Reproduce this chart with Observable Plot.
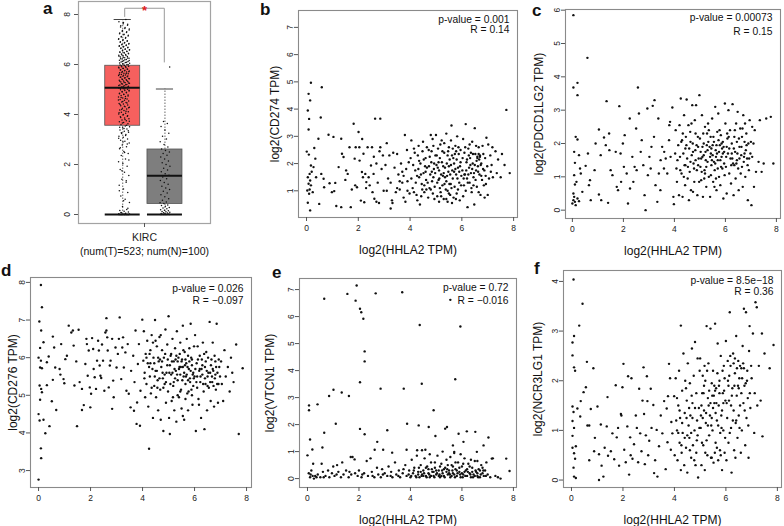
<!DOCTYPE html>
<html><head><meta charset="utf-8">
<script src="https://cdn.jsdelivr.net/npm/d3@7"></script>
<script src="https://cdn.jsdelivr.net/npm/@observablehq/plot@0.6"></script>
<style>
body{margin:0;background:#fff;font-family:"Liberation Sans",Arial,sans-serif;}
#fig{position:relative;width:784px;height:526px;overflow:hidden;background:#fff;}
.panel{position:absolute;}
.tag{position:absolute;font-weight:bold;font-size:17px;line-height:17px;color:#111;}
</style></head><body><div id="fig"></div>
<script>
// ---------- DATA ----------
// panel a: box plot summary (KIRC tumor vs normal)
const boxGroups = ["Tumor", "Normal"];
const boxColors = ["#F6605E", "#7E7E7E"];
const boxLow = [0, 0];
const boxQ1 = [3.55, 0.42];
const boxMedian = [5.07, 1.55];
const boxQ3 = [5.95, 2.6];
const boxHigh = [7.8, 5.02];
const tumorValues = [0,0,0,0,0,0,0,0,0,0,0,0,0.01,0.03,0.05,0.07,0.1,0.13,0.16,0.2,
 0.32,0.48,0.61,0.74,0.88,1.02,1.17,1.29,1.41,1.56,1.69,1.8,1.93,2.04,2.11,2.22,2.36,2.44,2.52,2.63,2.71,2.78,2.86,2.93,2.97,
 3.02,3.09,3.13,3.2,3.24,3.29,3.33,3.38,3.42,3.47,3.51,3.54,3.59,3.63,3.68,3.71,3.75,3.78,3.83,3.86,3.91,3.93,3.98,
 4.02,4.05,4.09,4.11,4.16,4.18,4.22,4.25,4.29,4.31,4.35,4.38,4.42,4.44,4.48,4.5,4.54,4.57,4.6,4.62,4.66,4.7,4.72,4.76,4.78,4.81,4.85,4.87,4.9,4.94,4.96,4.99,
 5.01,5.03,5.06,5.08,5.1,5.13,5.15,5.18,5.2,5.22,5.25,5.27,5.3,5.32,5.34,5.37,5.39,5.42,5.44,5.46,5.49,5.51,5.53,5.56,5.58,5.6,5.63,5.65,5.67,5.7,5.72,5.74,5.77,5.79,5.81,5.84,5.86,5.88,5.91,5.93,5.96,5.98,
 6.0,6.03,6.05,6.08,6.1,6.12,6.15,6.17,6.2,6.22,6.25,6.27,6.3,6.32,6.35,6.37,6.4,6.42,6.45,6.48,6.5,6.53,6.56,6.58,6.61,6.64,6.67,6.7,6.73,6.76,6.79,6.82,6.86,6.89,6.93,6.97,
 7.01,7.05,7.1,7.14,7.19,7.23,7.28,7.33,7.38,7.44,7.5,7.57,7.63,7.71,7.8,
 0,0,0,0,0,0,0.02,0.04,0.08,0.25,0.55,0.95,1.35,1.75,2.18,2.48,2.67,2.82,2.9,3.05,3.16,3.27,3.35,3.44,3.49,3.57,3.66,3.73,3.8,3.88,3.95,
 4.0,4.07,4.13,4.2,4.27,4.33,4.4,4.46,4.52,4.58,4.64,4.68,4.74,4.8,4.83,4.89,4.92,4.97,5.02,5.05,5.09,5.12,5.16,5.19,5.23,5.26,5.29,5.33,5.36,5.4,5.43,5.47,5.5,5.54,5.57,5.61,5.64,5.68,5.71,5.75,5.78,5.82,5.85,5.89,5.92,5.95,5.99,
 6.02,6.06,6.09,6.13,6.16,6.19,6.23,6.26,6.29,6.33,6.36,6.39,6.43,6.46,6.49,6.52,6.55,6.59,6.62,6.66,6.69,6.72,6.75,6.78,6.81,6.84,6.88,6.91,6.95,6.99,7.03,7.08,7.12,7.17,7.21,7.26,7.31,7.36,7.42,7.48,7.55,7.61,7.68];
const normalValues = [0,0,0,0,0,0,0,0,0.01,0.02,0.03,0.04,0.06,0.07,0.09,0.11,0.12,0.15,0.17,0.19,0.23,0.26,0.28,0.33,0.36,0.38,0.44,0.47,0.5,0.57,0.63,0.71,0.79,0.86,0.93,1.0,1.06,1.13,1.21,1.28,1.36,1.43,1.5,1.57,1.63,1.71,1.78,1.85,1.93,2.0,2.07,2.14,2.22,2.3,2.37,2.44,2.5,2.56,2.62,2.7,2.8,2.91,3.02,3.13,3.25,3.38,3.52,3.64,3.72,5.9];
const tumorN = 523, normalN = 100;
const cancerLabel = "KIRC";

// panel b: CD274 vs HHLA2
const ptsB = [[0.08,4.56],[0.17,4.97],[0.14,4.32],[0.05,3.95],[0.1,3.64],[0.08,3.25],[0.01,2.44],[0.09,2.33],[0.17,1.93],[0.12,1.62],[0.05,1.5],[0.14,1.38],[0.08,1.26],[0.17,1.2],[0.03,1.01],[0.1,0.89],[0.05,0.56],[0.14,0.28],[0.27,1.87],[0.24,0.95],[0.34,2.18],[0.3,2.57],[0.46,2.91],[0.37,1.5],[0.57,1.62],[0.59,4.8],[0.55,3.69],[0.66,1.44],[0.68,1.13],[0.49,0.52],[0.85,3.06],[0.89,1.28],[0.98,0.95],[0.2,1.7],[0.12,1.05],
[1.04,2.98],[1.11,1.29],[1.07,0.99],[1.15,0.44],[1.24,1.87],[1.34,2.91],[1.34,0.4],[1.37,2.36],[1.43,2.24],[1.53,1.75],[1.59,1.62],[1.66,2.6],[1.71,0.4],[1.82,3.46],[1.86,2.18],[1.88,1.2],[1.95,1.13],[1.5,1.4],[1.75,1.05],[1.9,2.6],
[2.01,3.16],[2.04,2.6],[2.05,2.11],[2.1,0.64],[2.14,1.69],[2.18,1.5],[2.2,2.36],[2.23,0.58],[2.27,1.62],[2.31,1.32],[2.36,2.6],[2.4,1.5],[2.44,1.2],[2.49,1.93],[2.53,2.6],[2.59,1.62],[2.62,0.71],[2.65,3.65],[2.85,3.65],[2.7,2.0],[2.75,1.3],[2.8,0.55],[2.85,2.6],[2.9,1.8],[2.95,2.3],[2.98,1.0],[2.55,0.95],[2.7,0.6],[2.3,1.1],[2.15,2.9],[2.6,2.25],[2.82,2.45],
[3.05,1.95],[3.1,2.75],[3.15,1.45],[3.2,2.3],[3.25,0.35],[3.3,0.65],[3.32,0.55],[3.4,1.85],[3.45,0.95],[3.5,2.35],[3.55,1.6],[3.6,1.05],[3.65,2.0],[3.7,1.3],[3.75,1.55],[3.8,3.05],[3.82,0.6],[3.85,1.8],[3.9,1.35],[3.95,2.05],[3.98,0.9],[3.35,2.4],[3.6,1.35],[3.7,1.7],[3.9,1.0],[3.5,1.1],[3.25,1.3],[3.1,1.0],[3.75,0.75],[3.88,2.5],
[4.05,2.85],[4.1,1.1],[4.15,2.55],[4.2,1.75],[4.25,0.85],[4.3,2.3],[4.35,1.5],[4.38,0.5],[4.4,2.0],[4.45,1.25],[4.5,2.8],[4.52,1.65],[4.55,0.95],[4.6,2.2],[4.62,1.4],[4.65,1.85],[4.7,0.75],[4.72,2.5],[4.75,1.1],[4.78,1.6],[4.8,3.05],[4.82,2.05],[4.85,1.35],[4.88,0.9],[4.9,2.65],[4.92,1.8],[4.95,1.15],[4.98,2.3],[5.0,3.05],[4.05,1.45],[4.12,1.95],[4.22,1.3],[4.28,0.65],[4.32,1.8],[4.42,1.6],[4.48,2.45],[4.58,1.9],[4.68,1.3],[4.76,2.25],[4.84,1.7],[4.94,0.7],[4.65,2.6],[4.35,2.1],[4.55,1.2],[4.15,0.95],[4.8,1.05],[4.9,1.5],[4.6,1.7],
[5.02,1.95],[5.05,0.8],[5.08,2.55],[5.1,1.4],[5.12,1.75],[5.15,2.2],[5.18,0.95],[5.2,1.6],[5.22,2.85],[5.25,1.2],[5.28,1.9],[5.3,0.7],[5.32,2.4],[5.35,1.5],[5.38,1.05],[5.4,3.1],[5.42,2.0],[5.45,0.6],[5.48,1.7],[5.5,2.6],[5.52,1.25],[5.55,0.85],[5.58,1.95],[5.6,3.4],[5.62,2.3],[5.65,1.45],[5.68,0.75],[5.7,2.0],[5.72,1.15],[5.75,2.65],[5.78,1.6],[5.8,0.9],[5.82,3.0],[5.85,1.85],[5.88,2.35],[5.9,1.3],[5.92,0.65],[5.95,2.05],[5.98,1.55],[5.05,1.3],[5.15,1.1],[5.25,2.45],[5.35,1.85],[5.45,2.3],[5.55,1.6],[5.65,2.55],[5.75,1.8],[5.85,1.05],[5.95,2.5],[5.1,2.05],[5.2,0.8],[5.3,1.65],[5.4,1.35],[5.5,1.9],[5.6,1.1],[5.7,1.7],[5.8,2.15],[5.9,1.7],[5.45,1.0],[5.62,0.55],[5.4,0.7],[5.5,0.9],[5.32,2.75],[5.58,2.85],[5.78,2.45],[5.12,0.6],
[6.02,1.75],[6.05,2.9],[6.08,1.2],[6.1,2.4],[6.12,1.6],[6.15,3.45],[6.18,2.05],[6.2,1.45],[6.22,0.4],[6.25,2.55],[6.28,1.85],[6.3,1.3],[6.32,2.2],[6.35,1.65],[6.38,0.95],[6.4,2.8],[6.42,2.0],[6.45,1.5],[6.48,0.5],[6.5,3.3],[6.52,2.35],[6.55,1.75],[6.58,1.15],[6.6,2.25],[6.62,1.9],[6.65,2.6],[6.68,1.6],[6.7,2.3],[6.72,0.85],[6.75,2.0],[6.78,1.4],[6.8,2.65],[6.82,1.8],[6.85,1.2],[6.88,0.75],[6.9,2.2],[6.92,1.55],[6.95,2.95],[6.98,1.9],[6.15,1.0],[6.25,1.6],[6.35,2.4],[6.45,1.2],[6.55,2.65],[6.65,2.35],[6.75,1.55],[6.6,2.2],[6.7,2.25],[6.1,1.6],[6.2,2.15],[6.4,1.8],[6.3,2.7],[6.05,0.8],[6.5,1.95],[6.65,0.95],
[7.02,2.7],[7.05,1.45],[7.1,2.3],[7.12,1.7],[7.15,1.95],[7.2,1.5],[7.3,2.45],[7.35,1.65],[7.4,2.15],[7.5,1.5],[7.55,2.35],[7.65,1.95],[7.72,3.97],[7.85,1.65],[7.0,0.85],[7.18,2.6],
[4.02,2.2],[4.18,2.4],[4.27,1.55],[4.33,2.65],[4.43,0.8],[4.53,2.15],[4.63,1.05],[4.73,1.9],[4.83,2.45],[4.93,2.0],[5.03,2.3],[5.13,1.45],[5.23,2.05],[5.33,1.25],[5.43,1.55],[5.53,2.15],[5.63,1.75],[5.73,2.35],[5.83,1.45],[5.93,1.9],[6.03,2.2],[6.13,2.6],[6.23,1.3],[6.33,1.95],[6.43,2.35],[6.53,1.4],[6.63,1.7],[6.73,1.95],[6.83,2.35],[6.93,1.25],[5.07,1.85],[5.27,1.55],[5.47,2.45],[5.67,2.2],[5.87,2.6],[6.07,1.45],[6.27,2.3],[6.47,1.65],[6.67,2.15],[6.87,1.75],[4.47,1.05],[4.97,1.65],[5.57,1.25],[6.17,1.75],[6.57,2.1],[5.17,2.7],[5.77,0.7],[6.37,1.1],[4.87,2.9],[5.97,1.2]];

// panel c: PDCD1LG2 vs HHLA2
const ptsC = [[0.04,5.85],[0.04,3.68],[0.2,3.82],[0.2,3.45],[0.13,2.2],[0.2,2.12],[0.07,1.75],[0.1,1.42],[0.07,1.05],[0.16,0.85],[0.1,0.77],[0.07,0.4],[0.04,0.3],[0.1,0.25],[0.0,0.2],[0.2,0.35],[0.13,0.15],[0.04,0.5],[0.26,1.65],[0.3,1.25],[0.33,1.1],[0.39,0.55],[0.26,0.27],
[0.59,4.57],[0.52,1.33],[0.61,1.7],[0.69,0.9],[0.72,0.3],[0.65,0.75],[0.87,1.2],[0.91,2.0],[1.04,2.42],[1.04,0.47],[1.11,1.65],[1.13,0.3],[1.24,2.18],[1.31,1.95],[1.34,3.27],[1.4,0.22],[1.44,2.3],[1.45,1.8],[1.5,1.2],[1.57,1.05],[1.7,1.75],[1.74,0.7],[1.79,0.6],[1.84,3.12],[1.89,1.7],[1.91,0.85],[1.98,2.0],
[2.02,1.3],[2.05,2.25],[2.13,1.1],[2.18,0.2],[2.25,2.75],[2.26,0.65],[2.35,1.6],[2.39,0.85],[2.44,1.3],[2.5,2.45],[2.52,1.2],[2.57,3.68],[2.61,2.9],[2.68,1.75],[2.72,2.1],[2.78,1.35],[2.83,0.45],[2.87,0.0],[2.94,3.05],[2.96,1.05],
[3.02,1.6],[3.07,1.25],[3.1,1.9],[3.15,3.13],[3.2,2.2],[3.22,3.3],[3.26,0.75],[3.33,0.25],[3.37,2.75],[3.39,1.1],[3.46,1.5],[3.52,1.9],[3.59,1.25],[3.66,1.55],[3.72,1.1],[3.79,2.1],[3.83,2.65],[3.85,1.6],[3.92,3.08],[3.96,0.4],[3.98,0.18],[3.8,2.55],[3.6,1.75],[3.45,0.6],
[4.05,2.4],[4.08,1.25],[4.1,0.85],[4.15,1.95],[4.18,0.45],[4.2,2.55],[4.22,1.6],[4.25,3.35],[4.28,1.1],[4.3,2.1],[4.32,0.4],[4.35,1.7],[4.38,2.85],[4.4,1.35],[4.42,0.75],[4.45,2.2],[4.48,3.32],[4.5,1.55],[4.52,0.95],[4.55,2.55],[4.58,1.85],[4.6,1.15],[4.62,2.35],[4.65,0.6],[4.68,1.65],[4.7,3.15],[4.72,2.0],[4.75,1.4],[4.78,0.85],[4.8,2.7],[4.82,1.8],[4.85,3.15],[4.88,1.2],[4.9,0.45],[4.92,2.2],[4.95,1.55],[4.98,3.45],[4.12,1.5],[4.27,2.05],[4.37,1.0],[4.47,1.95],[4.57,0.3],[4.67,2.6],[4.77,1.25],[4.87,1.95],[4.97,0.85],[4.43,1.85],[4.63,1.45],[4.83,2.3],[4.93,1.35],[4.73,0.55],
[5.0,2.15],[5.02,1.3],[5.05,0.9],[5.08,2.85],[5.1,1.6],[5.12,0.4],[5.15,2.0],[5.18,1.2],[5.2,2.5],[5.22,1.75],[5.25,0.7],[5.28,2.3],[5.3,1.45],[5.32,2.6],[5.35,1.0],[5.38,1.9],[5.4,0.4],[5.42,2.2],[5.45,1.35],[5.48,2.75],[5.5,1.65],[5.52,0.85],[5.55,2.05],[5.58,1.2],[5.6,3.1],[5.62,1.8],[5.65,0.6],[5.68,2.35],[5.7,1.5],[5.72,2.9],[5.75,1.0],[5.78,1.95],[5.8,0.75],[5.82,2.25],[5.85,1.6],[5.88,1.25],[5.9,2.05],[5.92,0.35],[5.95,1.75],[5.98,3.2],[5.05,1.55],[5.15,1.65],[5.25,1.3],[5.35,2.4],[5.45,1.85],[5.55,1.45],[5.65,1.95],[5.75,1.75],[5.85,2.0],[5.95,1.4],[5.1,1.9],[5.3,1.8],[5.5,1.95],[5.7,1.25],[5.9,1.7],[5.2,1.1],[5.4,1.6],[5.6,1.4],[5.8,1.5],[5.43,1.05],[5.63,0.95],
[6.0,2.6],[6.02,1.3],[6.05,0.5],[6.08,2.15],[6.1,1.7],[6.12,3.0],[6.15,1.1],[6.18,2.4],[6.2,1.55],[6.22,0.8],[6.25,2.0],[6.28,3.18],[6.3,1.4],[6.32,0.45],[6.35,2.2],[6.38,1.75],[6.4,0.95],[6.42,2.6],[6.45,1.5],[6.48,2.95],[6.5,1.25],[6.52,0.6],[6.55,1.9],[6.58,2.45],[6.6,1.1],[6.62,1.65],[6.65,2.2],[6.68,0.7],[6.7,2.85],[6.72,1.45],[6.75,2.05],[6.78,1.0],[6.8,1.8],[6.82,2.3],[6.85,1.55],[6.88,0.3],[6.9,2.0],[6.92,1.2],[6.95,2.7],[6.98,1.7],[6.15,1.85],[6.35,1.35],[6.55,1.55],[6.75,1.7],[6.25,1.7],[6.45,2.05],[6.65,1.3],[6.05,1.9],[7.0,2.05],
[7.02,0.15],[7.05,1.6],[7.1,2.0],[7.12,0.7],[7.15,2.4],[7.2,1.15],[7.3,1.45],[7.35,2.7],[7.42,1.15],[7.5,1.4],[7.6,2.75],[7.78,2.8],[7.88,1.4],[7.05,2.5],
[4.03,1.7],[4.23,1.2],[4.33,2.3],[4.53,1.3],[4.73,1.75],[4.93,1.9],[5.03,1.75],[5.13,2.3],[5.23,1.5],[5.33,2.05],[5.43,1.7],[5.53,2.2],[5.63,1.6],[5.73,2.1],[5.83,1.3],[5.93,1.9],[6.03,1.6],[6.13,2.2],[6.23,1.35],[6.33,1.85],[6.43,1.4],[6.53,2.15],[6.63,1.9],[6.73,1.6],[6.83,1.95],[6.93,1.55],[5.07,1.15],[5.27,1.95],[5.47,1.5],[5.67,1.7],[5.87,1.85],[6.07,2.3],[6.27,1.55],[6.47,1.7],[6.67,2.45],[6.87,1.35],[4.63,2.05],[4.83,1.5],[5.17,0.95],[5.57,0.7],[5.97,1.05],[6.37,2.4],[6.77,2.6],[4.43,1.35],[5.77,2.4]];

// panel d: CD276 vs HHLA2
const ptsD = [[0.09,7.93],[0.13,7.34],[0.03,6.96],[0.1,6.72],[0.19,6.41],[0.06,6.26],[0.0,6.0],[0.09,5.92],[0.06,5.74],[0.13,5.72],[0.04,5.26],[0.1,5.17],[0.13,5.08],[0.06,4.88],[0.0,4.5],[0.04,4.33],[0.19,4.35],[0.26,3.99],[0.09,3.59],[0.1,3.33],[0.0,2.76],[0.32,5.88],[0.39,6.03],[0.42,4.18],[0.32,5.27],[0.51,4.84],[0.55,5.41],[0.55,6.56],[0.6,6.27],[0.64,5.74],[0.68,4.61],[0.81,5.7],[0.84,5.55],[0.87,6.36],[0.96,5.43],[0.99,5.32],
[1.03,5.96],[1.09,6.05],[1.16,6.85],[1.26,6.67],[1.32,6.72],[1.35,6.32],[1.38,5.26],[1.45,5.9],[1.48,4.18],[1.54,6.74],[1.58,5.35],[1.67,5.17],[1.67,4.61],[1.74,4.74],[1.8,5.83],[1.84,6.5],[1.86,6.36],[1.89,5.52],[1.93,6.19],[1.97,5.21],[1.99,4.68],
[2.02,5.04],[2.06,6.52],[2.1,6.23],[2.12,5.7],[2.16,5.48],[2.21,5.17],[2.25,5.92],[2.29,6.45],[2.32,6.19],[2.35,5.79],[2.38,5.52],[2.41,5.46],[2.44,6.35],[2.48,5.92],[2.53,5.12],[2.57,6.67],[2.61,6.72],[2.64,6.54],[2.66,6.19],[2.61,7.05],[2.7,5.21],[2.74,5.79],[2.77,5.92],[2.83,6.5],[2.83,4.64],[2.87,5.39],[2.89,4.95],[2.96,6.27],
[3.0,5.74],[3.05,6.1],[3.09,6.5],[3.12,7.07],[3.18,5.43],[3.22,6.27],[3.25,6.54],[3.28,5.74],[3.34,6.14],[3.38,5.12],[3.43,6.36],[3.47,5.04],[3.54,4.68],[3.56,5.65],[3.64,6.05],[3.67,4.59],[3.69,5.35],[3.73,6.72],[3.77,4.24],[3.79,4.81],[3.82,5.83],[3.86,6.36],[3.9,4.19],[3.92,5.12],[3.99,7.01],
[4.03,5.92],[4.05,6.7],[4.08,5.6],[4.1,4.95],[4.12,6.1],[4.15,5.3],[4.18,6.45],[4.2,5.85],[4.22,4.7],[4.25,3.58],[4.28,5.5],[4.3,6.2],[4.32,5.05],[4.35,6.6],[4.38,5.7],[4.4,4.4],[4.42,6.0],[4.45,5.25],[4.48,7.0],[4.5,5.65],[4.52,4.95],[4.55,6.3],[4.58,5.4],[4.6,4.6],[4.62,5.9],[4.65,6.55],[4.68,5.15],[4.7,4.35],[4.72,5.75],[4.75,6.2],[4.78,5.45],[4.8,4.05],[4.82,6.0],[4.85,5.3],[4.88,6.75],[4.9,4.8],[4.92,5.6],[4.95,6.35],[4.98,5.1],[4.15,6.0],[4.25,5.75],[4.35,5.2],[4.45,5.85],[4.55,5.65],[4.65,5.45],[4.75,5.9],[4.85,5.55],[4.95,5.8],[4.3,5.85],[4.6,6.0],[4.9,5.35],[4.5,6.45],[4.7,6.6],[4.4,6.4],[4.8,5.2],
[5.0,7.1],[5.02,4.4],[5.05,3.97],[5.08,6.05],[5.1,5.55],[5.12,4.85],[5.15,6.5],[5.18,5.25],[5.2,5.9],[5.22,4.6],[5.25,6.25],[5.28,5.65],[5.3,4.3],[5.32,6.7],[5.35,5.4],[5.38,6.0],[5.4,4.95],[5.42,5.75],[5.45,6.4],[5.48,5.15],[5.5,4.65],[5.52,5.95],[5.55,6.85],[5.58,5.5],[5.6,4.35],[5.62,6.15],[5.65,5.3],[5.68,5.85],[5.7,6.5],[5.72,5.05],[5.75,4.6],[5.78,5.7],[5.8,6.25],[5.82,5.45],[5.85,6.9],[5.88,5.15],[5.9,5.95],[5.92,4.75],[5.95,5.6],[5.98,6.3],[5.05,5.8],[5.15,5.6],[5.25,5.45],[5.35,5.9],[5.45,5.55],[5.55,5.75],[5.65,5.95],[5.75,5.4],[5.85,5.65],[5.95,5.25],[5.1,6.1],[5.3,6.05],[5.5,5.9],[5.7,5.55],[5.9,5.8],[5.2,5.35],[5.4,5.7],[5.6,5.6],[5.8,5.9],[5.45,5.1],[5.65,4.9],[5.35,5.0],[5.55,4.45],[5.75,6.05],[5.9,5.0],
[6.0,5.5],[6.02,6.6],[6.05,4.05],[6.08,5.85],[6.1,5.2],[6.12,6.3],[6.15,4.9],[6.18,5.65],[6.2,6.05],[6.22,5.35],[6.25,4.4],[6.28,5.95],[6.3,5.55],[6.32,6.4],[6.35,5.1],[6.38,4.1],[6.4,5.75],[6.42,5.3],[6.45,6.15],[6.48,4.6],[6.5,5.5],[6.52,6.0],[6.55,5.2],[6.58,6.95],[6.6,5.6],[6.62,4.85],[6.65,5.95],[6.68,5.35],[6.7,6.4],[6.72,5.65],[6.75,4.7],[6.78,5.45],[6.8,5.9],[6.82,5.15],[6.85,6.9],[6.88,5.6],[6.9,4.8],[6.92,5.3],[6.95,5.75],[6.98,5.5],[6.1,5.5],[6.3,5.8],[6.5,5.25],[6.7,5.7],[6.2,5.7],[6.4,5.45],[6.6,5.35],[6.8,5.55],
[7.02,5.9],[7.05,5.3],[7.1,4.85],[7.15,6.2],[7.2,5.5],[7.28,5.75],[7.35,5.1],[7.4,6.0],[7.5,5.35],[7.6,6.35],[7.7,3.97],[7.85,5.72],[7.45,5.6],
[4.07,5.45],[4.27,6.1],[4.47,5.5],[4.67,5.95],[4.87,6.1],[5.03,5.6],[5.13,5.9],[5.23,5.7],[5.33,5.55],[5.43,6.1],[5.53,5.4],[5.63,5.8],[5.73,5.75],[5.83,5.35],[5.93,5.55],[6.03,5.7],[6.13,5.95],[6.23,5.5],[6.33,5.3],[6.43,5.9],[6.53,5.6],[6.63,5.8],[6.73,5.25],[6.83,5.75],[6.93,5.95],[5.07,5.3],[5.27,5.95],[5.47,5.75],[5.67,5.5],[5.87,6.0],[6.07,5.35],[6.27,5.7],[6.47,5.65],[6.67,5.5],[6.87,5.3],[4.57,5.2],[4.77,5.6],[4.97,5.95],[5.57,6.2],[5.97,5.45],[6.37,6.1],[6.77,6.05],[5.17,4.95],[5.77,5.1],[6.17,4.75]];

// panel e: VTCN1 vs HHLA2
const ptsE = [[0.65,6.66],[1.55,6.84],[1.91,7.15],[1.87,6.59],[2.04,6.29],[2.09,6.16],[2.17,5.92],[2.22,4.71],[2.22,4.34],[2.65,6.86],[3.68,6.9],[4.36,5.69],[5.55,6.62],[5.94,5.63],[5.74,3.68],[4.44,3.51],[3.74,3.33],[2.84,3.33],[2.04,3.57],[1.01,3.29],[0.84,3.06],[1.33,3.19],[1.61,3.06],[0.06,2.71],[0.06,2.53],[0.39,2.75],[1.1,2.03],[0.65,1.7],[2.04,1.84],[2.22,1.64],[3.1,1.79],[3.87,2.03],[4.32,1.97],[4.9,2.53],[4.71,1.91],[5.42,1.91],[5.35,1.85],[4.97,1.58],[5.87,1.66],[6.19,1.75],[6.52,1.73],[7.03,1.52],[6.84,1.23],[0.1,1.45],[0.19,1.08],[0.58,1.15],[2.71,1.36],[2.94,1.07],[3.29,0.96],[0.0,0.86],[1.68,0.8],[1.83,0.71],[2.61,1.07],[3.85,1.07],[4.26,1.05],[4.58,1.07],[5.65,1.23],[5.7,0.99],[6.06,1.36],[7.72,0.74],[6.58,0.99],[7.16,0.74],
[0.05,0.2],[0.1,0.05],[0.12,0.15],[0.15,0.3],[0.2,0.1],[0.22,0.55],[0.25,0.0],[0.3,0.1],[0.35,0.05],[0.4,0.15],[0.5,0.05],[0.55,0.55],[0.6,0.25],[0.7,0.1],[0.8,0.3],[0.85,0.05],[0.95,0.2],[1.0,0.45],[1.05,0.1],[1.15,0.5],[1.2,0.25],[1.3,0.05],[1.35,0.6],[1.4,0.15],[1.5,0.3],[1.6,0.05],[1.7,0.15],[1.75,0.8],[1.85,0.2],[1.95,0.1],[2.0,0.3],[2.1,0.05],[2.2,0.2],[2.3,0.65],[2.35,0.1],[2.45,0.75],[2.5,0.25],[2.6,0.05],[2.7,0.4],[2.75,0.15],[2.85,0.05],[2.9,0.35],[3.0,0.2],[3.1,0.1],[3.15,0.45],[3.25,0.25],[3.3,0.05],[3.4,0.6],[3.45,0.15],[3.55,0.3],[3.6,0.05],[3.7,0.2],[3.8,0.5],[3.85,0.1],[3.95,0.3],[4.0,0.05],[4.05,0.7],[4.1,0.2],[4.15,0.4],[4.2,0.1],[4.25,0.85],[4.3,0.25],[4.35,0.05],[4.4,0.5],[4.45,0.15],[4.5,0.3],[4.55,0.75],[4.6,0.1],[4.65,0.45],[4.7,0.2],[4.75,0.05],[4.8,0.6],[4.85,0.25],[4.9,0.1],[4.95,0.4],[5.0,0.15],[5.05,0.85],[5.1,0.3],[5.15,0.05],[5.2,0.55],[5.25,0.2],[5.3,0.1],[5.35,0.4],[5.4,0.7],[5.45,0.15],[5.5,0.3],[5.55,0.05],[5.6,0.5],[5.65,0.2],[5.7,0.95],[5.75,0.35],[5.8,0.1],[5.85,0.6],[5.9,0.25],[5.95,0.05],[6.0,0.45],[6.05,0.15],[6.1,0.75],[6.15,0.3],[6.2,0.1],[6.25,0.55],[6.3,0.2],[6.35,0.05],[6.4,0.4],[6.45,0.15],[6.5,0.65],[6.55,0.25],[6.6,0.1],[6.65,0.35],[6.7,0.05],[6.75,0.5],[6.8,0.2],[6.85,0.1],[6.9,0.3],[6.95,0.6],[7.0,0.15],[7.1,0.05],[7.2,0.75],[7.3,0.1],[7.4,0.05],[7.5,0.0],[7.85,0.28],
[4.3,0.15],[4.5,0.1],[4.7,0.35],[4.9,0.25],[5.1,0.1],[5.3,0.35],[5.5,0.2],[5.7,0.15],[5.9,0.4],[6.1,0.25],[6.3,0.45],[6.5,0.1],[6.7,0.3],[4.4,0.25],[4.6,0.4],[4.8,0.1],[5.0,0.3],[5.2,0.1],[5.4,0.25],[5.6,0.1],[5.8,0.3],[6.0,0.2],[6.2,0.35],[6.4,0.25],[6.6,0.2],[6.8,0.4],[5.15,0.45],[5.45,0.5],[5.75,0.6],[6.05,0.55],[5.55,0.8],[4.75,0.9],[6.35,0.7],[4.45,1.05],[5.25,1.0],[5.95,0.9],[6.6,0.65],[4.95,0.6],[5.65,0.45],
[4.03,0.1],[4.13,0.3],[4.23,0.05],[4.33,0.4],[4.43,0.1],[4.53,0.2],[4.63,0.05],[4.73,0.15],[4.83,0.35],[4.93,0.05],[5.03,0.2],[5.13,0.15],[5.23,0.3],[5.33,0.05],[5.43,0.35],[5.53,0.15],[5.63,0.3],[5.73,0.05],[5.83,0.2],[5.93,0.15],[6.03,0.05],[6.13,0.1],[6.23,0.25],[6.33,0.15],[6.43,0.05],[6.53,0.3],[6.63,0.05],[6.73,0.15],[6.83,0.3],[6.93,0.1],[3.53,0.1],[3.73,0.35],[3.93,0.15],[3.23,0.1],[2.93,0.15],[2.53,0.1],[2.13,0.15],[1.63,0.25],[1.13,0.15],[0.63,0.05]];

// panel f: NCR3LG1 vs HHLA2
const ptsF = [[0.08,4.04],[0.04,2.77],[0.1,2.9],[0.04,2.51],[0.1,2.27],[0.14,2.2],[0.04,1.48],[0.08,1.37],[0.04,1.19],[0.1,1.05],[0.04,0.65],[0.1,0.54],[0.14,0.43],[0.08,0.25],[0.1,0.07],[0.17,0.04],[0.04,0.89],[0.17,0.68],[0.23,1.44],[0.3,3.11],[0.34,1.28],[0.36,1.59],[0.43,3.55],[0.47,1.77],[0.56,1.87],[0.6,2.38],[0.62,1.1],[0.69,1.1],[0.69,0.4],[0.75,1.43],[0.85,2.25],[0.88,0.58],[0.91,0.85],
[1.01,1.48],[1.07,0.52],[1.07,0.0],[1.14,1.12],[1.17,0.29],[1.24,0.07],[1.29,0.65],[1.37,1.08],[1.4,1.67],[1.42,0.49],[1.53,0.58],[1.59,0.94],[1.66,0.42],[1.72,1.91],[1.76,0.86],[1.81,1.05],[1.85,0.29],[1.92,1.33],[1.94,1.3],[1.98,1.87],
[2.02,2.34],[2.05,0.61],[2.11,0.36],[2.17,1.08],[2.2,2.09],[2.24,0.11],[2.28,0.86],[2.3,0.5],[2.33,2.05],[2.37,0.43],[2.43,0.72],[2.5,1.3],[2.54,1.05],[2.59,0.36],[2.63,1.84],[2.67,0.94],[2.72,0.58],[2.76,1.6],[2.8,2.27],[2.82,1.33],[2.85,0.32],[2.89,0.9],[2.93,2.09],[2.95,1.59],[2.98,0.5],
[3.02,0.79],[3.08,1.84],[3.11,1.05],[3.18,1.51],[3.21,0.14],[3.25,0.4],[3.31,1.01],[3.34,0.07],[3.4,0.68],[3.47,1.3],[3.53,0.94],[3.6,1.59],[3.66,0.22],[3.7,1.44],[3.73,0.76],[3.75,1.69],[3.79,2.34],[3.83,2.05],[3.86,0.61],[3.88,1.17],[3.92,0.94],[3.99,1.69],
[4.01,0.5],[4.05,2.05],[4.1,1.0],[4.12,0.4],[4.15,1.5],[4.18,2.2],[4.2,0.75],[4.22,1.25],[4.25,3.11],[4.28,0.55],[4.3,1.8],[4.32,0.95],[4.35,2.55],[4.38,0.3],[4.4,1.35],[4.42,2.0],[4.45,0.65],[4.48,1.6],[4.5,0.15],[4.52,2.35],[4.55,1.1],[4.58,0.85],[4.6,1.95],[4.62,1.3],[4.65,0.45],[4.68,2.65],[4.7,1.55],[4.72,0.7],[4.75,2.1],[4.78,1.0],[4.8,2.78],[4.82,0.3],[4.85,1.75],[4.88,1.2],[4.9,2.45],[4.92,0.05],[4.95,1.45],[4.98,2.2],[4.1,1.65],[4.3,1.15],[4.5,0.9],[4.7,1.25],[4.9,0.9],[4.2,1.4],[4.4,0.85],[4.6,0.6],[4.8,1.45],[4.25,0.2],[4.65,0.95],[4.85,0.55],[4.45,1.85],[4.15,0.95],
[5.0,2.45],[5.02,1.05],[5.05,0.3],[5.08,1.75],[5.1,2.1],[5.12,0.7],[5.15,1.4],[5.18,0.2],[5.2,2.0],[5.22,1.15],[5.25,3.1],[5.28,0.5],[5.3,1.65],[5.32,2.35],[5.35,0.9],[5.38,1.3],[5.4,3.05],[5.42,0.45],[5.45,1.95],[5.48,1.0],[5.5,2.2],[5.52,0.35],[5.55,1.55],[5.58,3.15],[5.6,0.75],[5.62,1.85],[5.65,1.2],[5.68,2.75],[5.7,0.4],[5.72,1.5],[5.75,2.0],[5.78,0.95],[5.8,2.5],[5.82,1.3],[5.85,0.2],[5.88,1.75],[5.9,1.0],[5.92,2.3],[5.95,0.55],[5.98,1.6],[5.05,1.5],[5.15,1.9],[5.25,0.8],[5.35,1.8],[5.45,1.25],[5.55,1.9],[5.65,0.65],[5.75,1.75],[5.85,1.4],[5.95,2.05],[5.1,1.25],[5.3,1.1],[5.5,1.45],[5.7,1.1],[5.9,1.55],[5.2,0.55],[5.4,1.55],[5.6,1.35],[5.8,0.5],[5.45,0.45],[5.58,1.8],
[6.0,2.8],[6.02,0.4],[6.05,1.25],[6.08,2.0],[6.1,0.75],[6.12,1.6],[6.15,3.38],[6.18,2.3],[6.2,1.05],[6.22,0.15],[6.25,1.85],[6.28,2.55],[6.3,1.4],[6.32,0.6],[6.35,2.15],[6.38,1.15],[6.4,2.9],[6.42,1.7],[6.45,0.85],[6.48,2.4],[6.5,1.3],[6.52,2.05],[6.55,1.5],[6.58,0.55],[6.6,2.25],[6.62,1.0],[6.65,2.7],[6.68,1.55],[6.7,3.45],[6.72,1.9],[6.75,0.7],[6.78,3.38],[6.8,1.25],[6.82,2.0],[6.85,1.65],[6.88,0.45],[6.9,2.6],[6.92,3.1],[6.95,1.45],[6.98,2.3],[6.1,1.9],[6.3,2.35],[6.5,1.85],[6.7,2.25],[6.2,1.5],[6.4,1.2],[6.6,1.75],[6.35,2.45],[6.55,2.3],[6.15,0.95],
[7.0,2.05],[7.05,2.95],[7.1,0.95],[7.15,3.58],[7.2,3.48],[7.22,1.5],[7.28,2.3],[7.35,1.6],[7.4,2.95],[7.42,0.88],[7.5,2.55],[7.7,2.25],[7.85,2.72],[7.12,1.75],
[4.07,1.2],[4.27,0.7],[4.47,1.25],[4.67,1.7],[4.87,0.8],[5.03,1.3],[5.13,1.75],[5.23,1.35],[5.33,1.5],[5.43,1.1],[5.53,1.7],[5.63,1.55],[5.73,1.9],[5.83,1.05],[5.93,1.8],[6.03,1.55],[6.13,2.1],[6.23,1.7],[6.33,1.9],[6.43,2.25],[6.53,1.05],[6.63,2.05],[6.73,1.4],[6.83,2.2],[6.93,1.75],[5.07,0.75],[5.27,2.2],[5.47,1.7],[5.67,2.15],[5.87,2.2],[6.07,2.4],[6.27,1.2],[6.47,1.9],[6.67,2.35],[6.87,1.1],[4.57,1.45],[4.77,0.4],[4.97,1.05],[5.57,0.55],[5.97,0.85],[6.37,0.45],[6.77,1.95],[5.17,2.3],[5.77,0.6],[6.17,2.5]];

const xTicks = [0, 2, 4, 6, 8];
const xTitle = "log2(HHLA2 TPM)";
const panels = [
  {tag:"b", pts:ptsB, yTitle:"log2(CD274 TPM)", pval:"p-value = 0.001", r:"R = 0.14", yTicks:[1,2,3,4,5,6,7]},
  {tag:"c", pts:ptsC, yTitle:"log2(PDCD1LG2 TPM)", pval:"p-value = 0.00073", r:"R = 0.15", yTicks:[0,1,2,3,4,5,6]},
  {tag:"d", pts:ptsD, yTitle:"log2(CD276 TPM)", pval:"p-value = 0.026", r:"R = −0.097", yTicks:[3,4,5,6,7,8]},
  {tag:"e", pts:ptsE, yTitle:"log2(VTCN1 TPM)", pval:"p-value = 0.72", r:"R = −0.016", yTicks:[0,1,2,3,4,5,6,7]},
  {tag:"f", pts:ptsF, yTitle:"log2(NCR3LG1 TPM)", pval:"p-value = 8.5e−18", r:"R = 0.36", yTicks:[0,1,2,3,4]}
];

// ---------- LAYOUT ----------
const FONT = "'Liberation Sans', Arial, sans-serif";
const layout = {
  b:{left:260, top:0, w:262, h:262, ml:38, mr:5, mt:10, mb:45, xd:[-0.31,8.15], yd:[0.02,7.62], xt:true, ytx:-23, ptop:5, gap:10},
  c:{left:530, top:0, w:254, h:262, ml:35, mr:4, mt:9, mb:44, xd:[-0.27,8.16], yd:[-0.25,6.02], xt:true, ytx:-26, ptop:4, gap:14},
  d:{left:0, top:250, w:260, h:276, ml:30, mr:9, mt:27, mb:39, xd:[-0.31,8.19], yd:[2.55,8.13], xt:false, ytx:-17, ptop:7, gap:12},
  e:{left:260, top:250, w:262, h:276, ml:39, mr:6, mt:28, mb:39, xd:[-0.31,8.12], yd:[-0.33,7.41], xt:true, ytx:-29, ptop:5, gap:13},
  f:{left:530, top:250, w:254, h:276, ml:33, mr:3, mt:20, mb:39, xd:[-0.31,8.16], yd:[-0.15,4.22], xt:true, ytx:-25, ptop:6, gap:11}
};
const tagPos = {a:[43,0], b:[260,1], c:[532,2], d:[1,262], e:[272,264], f:[534,260]};

const fig = document.getElementById("fig");
function place(node, left, top) {
  const div = document.createElement("div");
  div.className = "panel";
  div.style.left = left + "px"; div.style.top = top + "px";
  div.appendChild(node); fig.appendChild(div);
}
const intFmt = d => String(d);

// ---------- PANEL A ----------
{
  const centers = [-0.33, 0.31];
  const stats = boxGroups.map((g, i) => ({g, c:centers[i], color:boxColors[i], lo:boxLow[i], q1:boxQ1[i], med:boxMedian[i], q3:boxQ3[i], hi:boxHigh[i]}));
  const jit = (i) => { const f = (i * 0.6180339887) % 1; return (f * 2 - 1) * 0.085; };
  const tumor = tumorValues.map((v, i) => ({x: centers[0] + 0.02 + jit(i), y: v}));
  const normal = normalValues.map((v, i) => ({x: centers[1] + jit(i + 7) * 0.9, y: v}));
  const topY = 8.25;
  const bracket = [[centers[0] + 0.03, d3.max(tumorValues) + 0.12], [centers[0] + 0.03, topY], [centers[1] - 0.01, topY], [centers[1] - 0.01, d3.max(normalValues) + 0.2]];
  const hw = 0.265, cw = 0.13;
  const p = Plot.plot({
    width:260, height:262, marginLeft:78, marginRight:50, marginTop:1, marginBottom:39,
    style:{fontFamily:FONT, fontSize:"8.5px", background:"transparent", color:"#222"},
    x:{domain:[-1,1]}, y:{domain:[-0.36,8.52]},
    marks:[
      Plot.frame({stroke:"#a3a3a3", strokeWidth:1.2}),
      Plot.axisY({ticks:[0,2,4,6,8], tickSize:4, tickPadding:5, tickRotate:-90, tickFormat:intFmt, label:null, stroke:"#555"}),
      Plot.axisX({ticks:[0], tickSize:4, tickPadding:6, tickFormat:() => cancerLabel, fontSize:10.5, label:null, stroke:"#555"}),
      Plot.ruleX(stats, {x:"c", y1:"q3", y2:"hi", stroke:"#444", strokeDasharray:"1.5,1.5", strokeWidth:0.8}),
      Plot.ruleX(stats, {x:"c", y1:"lo", y2:"q1", stroke:"#444", strokeDasharray:"1.5,1.5", strokeWidth:0.8}),
      Plot.rect(stats, {x1:d => d.c - hw, x2:d => d.c + hw, y1:"q1", y2:"q3", fill:"color", stroke:"#555", strokeWidth:0.8}),
      Plot.ruleY(stats, {y:"hi", x1:d => d.c - cw, x2:d => d.c + cw, stroke:"#444", strokeWidth:1}),
      Plot.dot(tumor, {x:"x", y:"y", r:0.75, fill:"#111", stroke:null}),
      Plot.dot(normal, {x:"x", y:"y", r:0.75, fill:"#111", stroke:null}),
      Plot.ruleY(stats, {y:"med", x1:d => d.c - hw, x2:d => d.c + hw, stroke:"#111", strokeWidth:1.8}),
      Plot.ruleY(stats, {y:"lo", x1:d => d.c - hw, x2:d => d.c + hw, stroke:"#111", strokeWidth:2}),
      Plot.line(bracket, {x:d => d[0], y:d => d[1], stroke:"#999", strokeWidth:1}),
      Plot.text(["*"], {x:0, y:topY, fill:"#e02020", fontSize:13, dy:3, fontWeight:"bold"}),
      Plot.text([`(num(T)=${tumorN}; num(N)=${normalN})`], {frameAnchor:"bottom", dy:31, fontSize:10.5, fill:"#111"})
    ]
  });
  place(p, 0, 0);
}

// ---------- SCATTER PANELS ----------
for (const pn of panels) {
  const L = layout[pn.tag];
  const marks = [
    Plot.frame({stroke:"#8a8a8a", strokeWidth:1.1}),
    Plot.axisX({ticks:xTicks, tickSize:4, tickPadding:3, tickFormat:intFmt, label:null, stroke:"#555"}),
    Plot.axisY({ticks:pn.yTicks, tickSize:4, tickPadding:2, tickRotate:-90, tickFormat:intFmt, label:null, stroke:"#555"}),
    Plot.dot(pn.pts, {x:d => d[0], y:d => d[1], r:1.2, fill:"#111", stroke:null}),
    Plot.text([pn.pval], {frameAnchor:"top-right", textAnchor:"end", dx:-8, dy:L.ptop, lineAnchor:"top", fontSize:10.3, fill:"#111"}),
    Plot.text([pn.r], {frameAnchor:"top-right", textAnchor:"end", dx:-8, dy:L.ptop + L.gap, lineAnchor:"top", fontSize:10.3, fill:"#111"}),
    Plot.text([pn.yTitle], {frameAnchor:"left", textAnchor:"middle", lineAnchor:"middle", rotate:-90, dx:L.ytx, fontSize:12, fill:"#111"})
  ];
  if (L.xt) marks.push(Plot.text([xTitle], {frameAnchor:"bottom", textAnchor:"middle", dy:36, fontSize:12, fill:"#111"}));
  const p = Plot.plot({
    width:L.w, height:L.h, marginLeft:L.ml, marginRight:L.mr, marginTop:L.mt, marginBottom:L.mb,
    style:{fontFamily:FONT, fontSize:"8.5px", background:"transparent", color:"#222"},
    x:{domain:L.xd}, y:{domain:L.yd},
    marks
  });
  place(p, L.left, L.top);
}

// panel tags
for (const [t, [x, y]] of Object.entries(tagPos)) {
  const d = document.createElement("div");
  d.className = "tag"; d.textContent = t;
  d.style.left = x + "px"; d.style.top = y + "px";
  fig.appendChild(d);
}
</script>
</body></html>
